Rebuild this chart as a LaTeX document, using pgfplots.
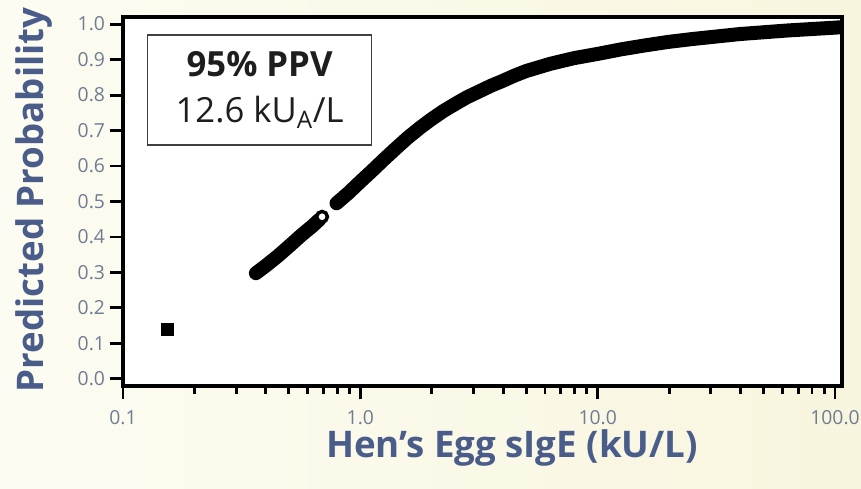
\documentclass[border=0pt]{standalone}
\usepackage{pgfplots}
\pgfplotsset{compat=1.18}
\usepackage{fontspec}
\setmainfont{Open Sans}
\definecolor{bgL}{RGB}{253,252,242}
\definecolor{bgR}{RGB}{248,245,222}
\definecolor{labblue}{RGB}{74,93,138}
\definecolor{tickgray}{RGB}{112,124,148}
\definecolor{boxtext}{RGB}{30,30,30}
\begin{document}
\begin{tikzpicture}
\path[use as bounding box, left color=bgL, right color=bgR] (-92.25pt,-77.25pt) rectangle (553.5pt,289.5pt);
\begin{axis}[
  scale only axis, width=539.25pt, height=276.75pt,
  at={(0pt,0pt)}, anchor=south west,
  xmode=log, xmin=0.1, xmax=107, ymin=-0.02, ymax=1.02,
  axis background/.style={fill=white},
  axis line style={line width=3.2pt, black},
  tick align=outside, tick pos=left,
  major tick length=10pt, minor tick length=6pt,
  every tick/.style={black, line width=2.2pt},
  xtick={0.1,1,10,100}, xticklabels={0.1,1.0,10.0,100.0},
  ytick={0,0.1,0.2,0.3,0.4,0.5,0.6,0.7,0.8,0.9,1.0},
  yticklabels={0.0,0.1,0.2,0.3,0.4,0.5,0.6,0.7,0.8,0.9,1.0},
  ticklabel style={font=\fontsize{14.5}{17}\selectfont, text=tickgray},
  xticklabel style={inner sep=1pt, yshift=-7.5pt},
  xlabel={Hen’s Egg sIgE (kU/L)},
  ylabel={Predicted Probability},
  every axis x label/.style={at={([yshift=-46.5pt]rel axis cs:0.541,0)}, anchor=center, inner sep=0.5pt,
    font=\bfseries\fontsize{27.5}{30}\selectfont, text=labblue},
  every axis y label/.style={at={([xshift=-66.75pt]rel axis cs:0,0.504)}, rotate=90, anchor=center, inner sep=0.5pt,
    font=\bfseries\fontsize{27.5}{30}\selectfont, text=labblue},
  axis on top,
]
\addplot[only marks, mark=square*, mark size=4.5pt, black] coordinates {(0.1535,0.141)};
\addplot[black, line width=10.5pt, line cap=round, line join=round] coordinates {
(0.363,0.298) (0.398,0.318) (0.447,0.345) (0.501,0.374) (0.562,0.404) (0.631,0.432) (0.672,0.449)
};
\addplot[only marks, mark=*, mark size=4pt, mark options={fill=white, draw=black, line width=2.6pt}] coordinates {(0.690,0.457)};
\addplot[black, line width=10.5pt, line cap=round, line join=round] coordinates {
(0.794,0.495) (0.891,0.524) (1.0,0.556) (1.122,0.587) (1.259,0.619) (1.413,0.650) (1.585,0.680)
(1.778,0.707) (1.995,0.732) (2.239,0.755) (2.512,0.775) (2.818,0.794) (3.162,0.810) (3.548,0.826)
(3.981,0.840) (4.467,0.855) (5.012,0.868) (6.310,0.888) (7.943,0.904) (10.0,0.916) (12.59,0.929)
(15.85,0.940) (19.95,0.950) (25.12,0.958) (31.62,0.965) (39.81,0.972) (50.12,0.977) (63.10,0.982)
(79.43,0.986) (100,0.990) (105,0.991)
};
\node[draw=boxtext!85, line width=1.1pt, fill=white, minimum width=168pt, minimum height=82.5pt,
  align=center, font=\fontsize{26}{34}\selectfont, text=boxtext, inner sep=0pt]
  at (rel axis cs:0.19,0.802) {\textbf{95\% PPV}\\12.6 kU\textsubscript{A}/L};
\end{axis}
\end{tikzpicture}
\end{document}
